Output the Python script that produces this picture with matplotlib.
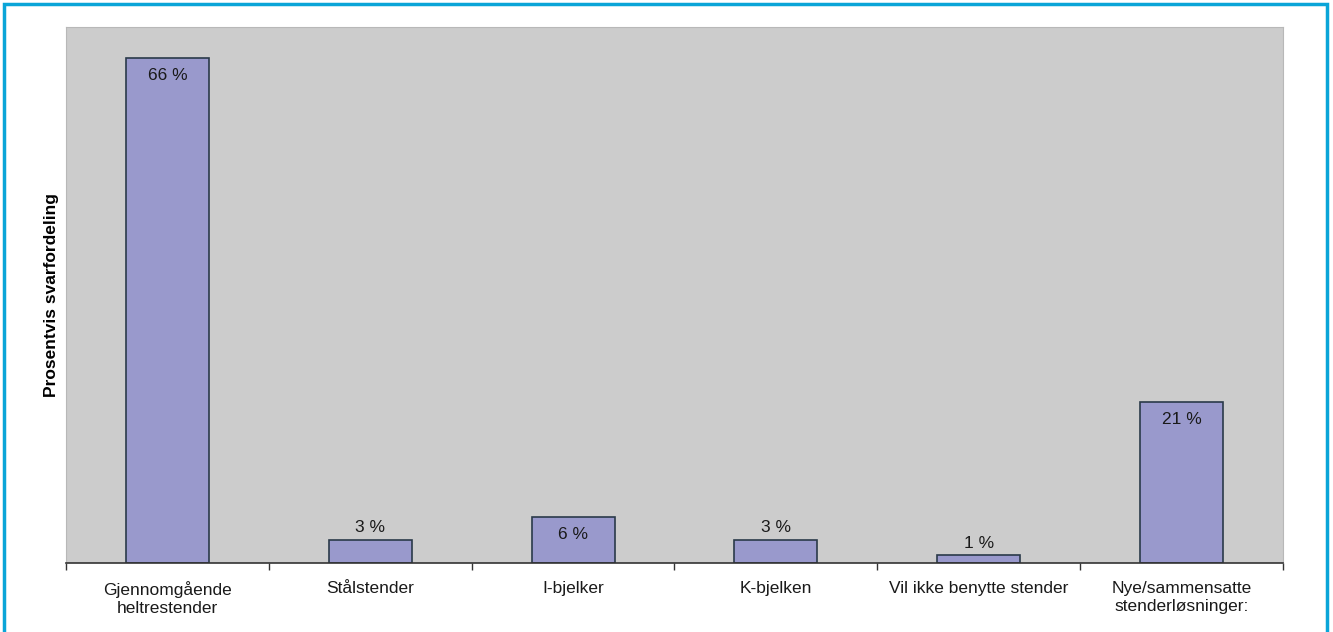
import numpy as np
import matplotlib.pyplot as plt
from matplotlib.patches import Rectangle

categories = ["Gjennomgående\nheltrestender", "Stålstender", "I-bjelker",
              "K-bjelken", "Vil ikke benytte stender",
              "Nye/sammensatte\nstenderløsninger:"]
values = [66, 3, 6, 3, 1, 21]
labels = ["66 %", "3 %", "6 %", "3 %", "1 %", "21 %"]

fig = plt.figure(figsize=(13.33, 6.32), dpi=100)
plt.rcParams['font.family'] = ['Liberation Sans', 'DejaVu Sans']

# blue frame around the whole figure
fig.patches.append(Rectangle((4 / 1333, -0.05), 1323 / 1333, 1 - 4 / 632 + 0.05,
                             transform=fig.transFigure, fill=False,
                             edgecolor="#0AA5D8", linewidth=2.5))

ax = fig.add_axes([66 / 1333, 69 / 632, 1217 / 1333, 536 / 632])
ax.set_facecolor("#CCCCCC")

x = np.arange(len(categories))
ax.bar(x, values, width=0.41, color="#9999CC", edgecolor="#2A3A4A", linewidth=1.2)

for xi, v, lab in zip(x, values, labels):
    if v >= 5:
        ax.text(xi, v - 1.3, lab, ha="center", va="top", fontsize=12.5, color="#1a1a1a")
    else:
        ax.text(xi, v + 0.6, lab, ha="center", va="bottom", fontsize=12.5, color="#1a1a1a")

ax.set_xlim(-0.5, len(categories) - 0.5)
ax.set_ylim(0, 70)

# tick marks between categories, labels under the bars
ax.set_xticks(np.arange(-0.5, len(categories), 1.0))
ax.set_xticklabels([])
ax.tick_params(axis="x", which="major", length=5, width=1, color="#333333", direction="out")
ax.set_xticks(x, minor=True)
ax.set_xticklabels(categories, minor=True, fontsize=12.5, color="#1a1a1a",
                   linespacing=1.25)
ax.tick_params(axis="x", which="minor", length=0, pad=13)

ax.set_yticks([])
ax.set_ylabel("Prosentvis svarfordeling", fontsize=12.5, fontweight="bold", labelpad=5)

for side in ["top", "right", "left"]:
    ax.spines[side].set_color("#B8B8B8")
    ax.spines[side].set_linewidth(0.8)
ax.spines["bottom"].set_color("#333333")
ax.spines["bottom"].set_linewidth(1.2)

plt.savefig("out.png", dpi=100)
